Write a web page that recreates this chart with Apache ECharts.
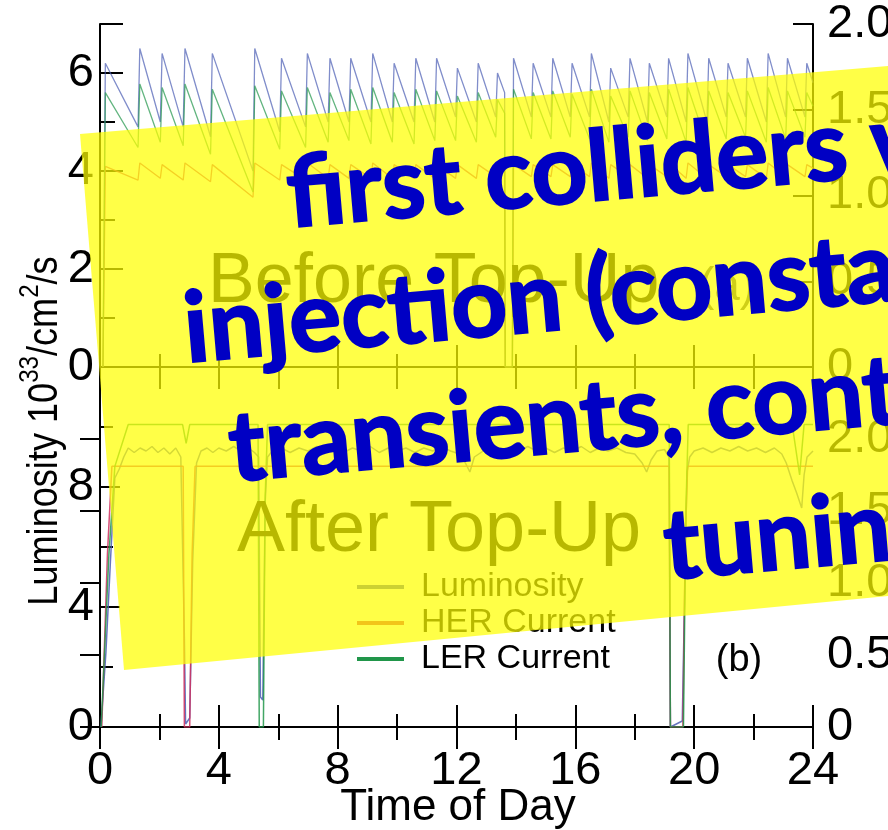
<!DOCTYPE html>
<html>
<head>
<meta charset="utf-8">
<script src="https://cdn.jsdelivr.net/npm/echarts@6/dist/echarts.min.js"></script>
<style>
  html, body { margin: 0; padding: 0; background: #ffffff; }
  #chart { width: 888px; height: 830px; }
</style>
</head>
<body>
<div id="chart"></div>
<script>
// ---------- Panel (a): before top-up, fill / decay cycles ----------
const beforeTime = [0.10, 0.18, 1.28, 1.34, 2.03, 2.09, 2.80, 2.86, 3.72, 3.78,
  5.15, 5.21, 6.05, 6.11, 6.92, 6.98, 7.68, 7.74, 8.38, 8.44,
  9.12, 9.18, 9.84, 9.90, 10.57, 10.63, 11.27, 11.33, 11.97, 12.03,
  12.67, 12.73, 13.32, 13.38, 13.62, 13.64, 13.88, 13.92, 14.52, 14.58,
  15.18, 15.24, 15.83, 15.89, 16.48, 16.54, 17.13, 17.19, 17.78, 17.84,
  18.43, 18.49, 19.08, 19.14, 19.73, 19.79, 20.43, 20.49, 21.08, 21.14,
  21.73, 21.79, 22.43, 22.49, 23.08, 23.14, 23.73, 23.79, 24.00];
const beforeLum = [0, 6.2, 4.9, 6.5, 5.0, 6.4, 4.9, 6.5, 4.7, 6.4,
  4.0, 6.5, 4.8, 6.3, 4.9, 6.4, 5.0, 6.3, 5.0, 6.3,
  5.0, 6.4, 5.0, 6.2, 5.0, 6.3, 5.0, 6.3, 5.1, 6.1,
  5.0, 6.2, 5.1, 6.0, 5.6, 0, 0, 6.3, 5.1, 6.2,
  5.1, 6.3, 5.1, 6.2, 5.1, 6.4, 5.0, 6.1, 5.1, 6.3,
  5.0, 6.2, 5.1, 6.3, 5.0, 6.4, 5.0, 6.3, 5.1, 6.2,
  5.1, 6.3, 5.0, 6.4, 5.1, 6.3, 5.1, 6.2, 5.8];
const beforeHer = [0, 1.17, 1.09, 1.19, 1.10, 1.18, 1.09, 1.19, 1.08, 1.18,
  0.99, 1.19, 1.09, 1.18, 1.09, 1.19, 1.10, 1.18, 1.10, 1.18,
  1.10, 1.19, 1.10, 1.18, 1.10, 1.18, 1.10, 1.18, 1.10, 1.18,
  1.10, 1.18, 1.11, 1.17, 1.14, 0, 0, 1.18, 1.11, 1.18,
  1.11, 1.18, 1.11, 1.18, 1.11, 1.19, 1.10, 1.18, 1.11, 1.18,
  1.10, 1.18, 1.11, 1.19, 1.10, 1.19, 1.10, 1.18, 1.11, 1.18,
  1.11, 1.18, 1.10, 1.19, 1.11, 1.18, 1.11, 1.18, 1.16];
const beforeLer = [0, 1.60, 1.28, 1.65, 1.31, 1.63, 1.29, 1.65, 1.24, 1.62,
  1.02, 1.64, 1.27, 1.61, 1.28, 1.63, 1.31, 1.60, 1.32, 1.62,
  1.30, 1.63, 1.31, 1.60, 1.30, 1.62, 1.32, 1.61, 1.32, 1.58,
  1.31, 1.60, 1.34, 1.56, 1.48, 0, 0, 1.62, 1.33, 1.60,
  1.33, 1.61, 1.34, 1.59, 1.33, 1.62, 1.31, 1.58, 1.34, 1.61,
  1.32, 1.60, 1.33, 1.62, 1.31, 1.63, 1.30, 1.61, 1.33, 1.60,
  1.34, 1.61, 1.31, 1.63, 1.33, 1.61, 1.34, 1.60, 1.52];

// ---------- Panel (b): after top-up, near-constant operation ----------
const afterLumTime = [0.03, 0.20, 0.35, 0.50, 0.65, 0.80, 0.95, 1.15, 1.35, 1.55,
  1.75, 1.95, 2.15, 2.35, 2.55, 2.72, 2.84, 2.88, 3.02, 3.12,
  3.25, 3.40, 3.60, 3.80, 4.00, 4.25, 4.50, 4.75, 5.00, 5.20,
  5.34, 5.40, 5.48, 5.56, 5.64, 5.80, 6.10, 6.40, 6.70, 7.00,
  7.30, 7.60, 7.90, 8.20, 8.50, 8.80, 9.10, 9.40, 9.70, 10.00,
  10.30, 10.60, 10.90, 11.20, 11.50, 11.80, 12.10, 12.30, 12.45, 12.60,
  12.90, 13.20, 13.50, 13.80, 14.10, 14.40, 14.70, 15.00, 15.30, 15.60,
  15.90, 16.20, 16.50, 16.80, 17.10, 17.40, 17.70, 18.00, 18.25, 18.40,
  18.55, 18.75, 19.00, 19.15, 19.20, 19.60, 19.68, 19.76, 19.85, 20.00,
  20.30, 20.60, 20.90, 21.20, 21.50, 21.80, 22.10, 22.40, 22.70, 22.95,
  23.10, 23.30, 23.45, 23.62, 23.70, 23.80, 23.90, 24.00];
const afterLum = [0, 2.5, 5.5, 8.3, 8.6, 9.0, 9.3, 9.15, 9.3, 9.2,
  9.35, 9.15, 9.3, 9.1, 9.3, 9.0, 3.0, 0.1, 0.3, 5.5,
  8.8, 9.2, 9.3, 9.15, 9.3, 9.2, 9.35, 9.2, 9.3, 9.15,
  9.0, 1.0, 0.9, 7.5, 9.0, 9.2, 9.3, 9.15, 9.3, 9.2,
  9.35, 9.2, 9.3, 9.15, 9.3, 9.2, 9.35, 9.15, 9.3, 9.2,
  9.3, 9.15, 9.3, 9.2, 9.35, 9.2, 9.1, 8.8, 8.5, 9.0,
  9.2, 9.3, 9.15, 9.3, 9.2, 9.35, 9.2, 9.3, 9.15, 9.3,
  9.2, 9.35, 9.15, 9.3, 9.2, 9.3, 9.15, 9.1, 8.8, 8.5,
  8.9, 9.2, 9.25, 9.0, 0, 0.2, 4.5, 8.5, 9.0, 9.2,
  9.3, 9.15, 9.3, 9.2, 9.35, 9.2, 9.3, 9.15, 9.3, 9.1,
  8.8, 8.2, 7.8, 7.3, 8.4, 9.0, 9.1, 9.2];
const afterHerTime = [0.06, 0.25, 0.40, 2.80, 2.84, 3.02, 3.10, 3.20, 19.16, 19.20, 19.62, 19.70, 19.78, 24.00];
const afterHer = [0, 1.2, 1.81, 1.81, 0, 0, 1.2, 1.81, 1.81, 0, 0, 1.3, 1.81, 1.81];
const afterLerTime = [0.04, 0.30, 0.50, 0.95, 2.78, 2.90, 3.02, 5.32, 5.36, 5.50, 5.56, 5.64,
  19.16, 19.20, 19.64, 19.72, 19.80, 23.30, 23.55, 23.70, 24.00];
const afterLer = [0, 1.2, 1.81, 2.1, 2.1, 1.97, 2.1, 2.1, 0, 0, 1.6, 2.1,
  2.1, 0, 0, 1.5, 2.1, 2.1, 1.75, 2.1, 2.1];

// ---------- Axis labels and names ----------
const hourLabels = [0, 4, 8, 12, 16, 20, 24];
const lumLabelsA = [0, 2, 4, 6];
const lumLabelsB = [0, 4, 8];
const timeTitle = 'Time of Day';
const seriesNames = ['Luminosity', 'HER Current', 'LER Current'];
const seriesColors = ['#4a5cb4', '#d0305e', '#21964a'];
const panelTitles = ['Before Top-Up', 'After Top-Up'];
const panelTags = ['(a)', '(b)'];
const bannerLines = ['first colliders with', 'injection (constant', 'transients, continuous', 'tuning'];

const FONT = "'Liberation Sans', Arial, Helvetica, sans-serif";
const TICK_FONT = 47;
const zip = (xs, ys) => xs.map((x, i) => [x, ys[i]]);

const axisLineStyle = { show: true, lineStyle: { color: '#000', width: 2 } };

function timeAxis(gridIndex, position, withLabels, minorLen) {
  return {
    type: 'value', gridIndex, position, min: 0, max: 24, interval: 4,
    axisLine: axisLineStyle,
    axisTick: { show: true, inside: true, length: 22, lineStyle: { color: '#000', width: 2 } },
    minorTick: { show: true, splitNumber: 2, length: minorLen, lineStyle: { color: '#000', width: 2 } },
    splitLine: { show: false },
    axisLabel: withLabels ? {
      show: true, margin: 21, color: '#000', fontSize: TICK_FONT, fontFamily: FONT,
      formatter: v => hourLabels.includes(v) ? String(v) : ''
    } : { show: false }
  };
}

function valueAxis(gridIndex, position, min, max, interval, opts) {
  return Object.assign({
    type: 'value', gridIndex, position, min, max, interval,
    axisLine: axisLineStyle,
    axisTick: { show: true, inside: true, length: 20, lineStyle: { color: '#000', width: 2 } },
    splitLine: { show: false },
    axisLabel: { show: false }
  }, opts);
}

const chart = echarts.init(document.getElementById('chart'));

const lineSeries = (name, idx, xi, yi, data, width, opacity) => ({
  name, type: 'line', xAxisIndex: xi, yAxisIndex: yi, data,
  showSymbol: false, symbol: 'none', clip: true, z: 3,
  itemStyle: { color: seriesColors[idx] },
  lineStyle: { color: seriesColors[idx], width, opacity }
});

chart.setOption({
  animation: false,
  backgroundColor: '#ffffff',
  grid: [
    { left: 100, top: 24, width: 713, height: 343, outerBoundsMode: 'none', containLabel: false },
    { left: 100, top: 367, width: 713, height: 360, outerBoundsMode: 'none', containLabel: false }
  ],
  xAxis: [
    timeAxis(0, 'bottom', false, 13),
    timeAxis(0, 'top', false, 22),
    timeAxis(1, 'bottom', true, 13),
    timeAxis(1, 'top', false, 13)
  ],
  yAxis: [
    // panel (a) luminosity scale, short ticks every unit
    valueAxis(0, 'left', 0, 7, 1, {
      axisTick: { show: true, inside: true, length: 15, lineStyle: { color: '#000', width: 2 } },
      axisLabel: {
        show: true, margin: 6, color: '#000', fontSize: TICK_FONT, fontFamily: FONT, showMaxLabel: false,
        formatter: v => lumLabelsA.includes(v) ? String(v) : ''
      }
    }),
    // panel (a) long ticks at labelled values
    valueAxis(0, 'left', 0, 7, 2, {
      axisLine: { show: false },
      axisTick: { show: true, inside: true, length: 23, lineStyle: { color: '#000', width: 2 } }
    }),
    // panel (a) current scale
    valueAxis(0, 'right', 0, 2, 0.5, {
      axisLabel: {
        show: true, margin: 14, color: '#000', fontSize: TICK_FONT, fontFamily: FONT,
        formatter: v => v === 0 ? '0' : v.toFixed(1)
      }
    }),
    // panel (b) luminosity scale
    valueAxis(1, 'left', 0, 12, 4, {
      axisTick: { show: true, inside: true, length: 20, lineStyle: { color: '#000', width: 2 } },
      minorTick: { show: true, splitNumber: 2, length: 13, lineStyle: { color: '#000', width: 2 } },
      axisLabel: {
        show: true, margin: 6, color: '#000', fontSize: TICK_FONT, fontFamily: FONT, showMaxLabel: false,
        formatter: v => lumLabelsB.includes(v) ? String(v) : ''
      }
    }),
    // panel (b) current scale
    valueAxis(1, 'right', 0, 2.5, 0.5, {
      axisLabel: {
        show: true, margin: 14, color: '#000', fontSize: TICK_FONT, fontFamily: FONT, showMaxLabel: false,
        formatter: v => v === 0 ? '0' : v.toFixed(1)
      }
    })
  ],
  legend: {
    orient: 'vertical', left: 352, top: 565,
    data: seriesNames,
    icon: 'rect', itemWidth: 47, itemHeight: 4, itemGap: 2,
    textStyle: { color: '#000', fontSize: 34, fontFamily: FONT, lineHeight: 34, padding: [0, 0, 0, 12] },
    selectedMode: false
  },
  series: [
    lineSeries(seriesNames[0], 0, 0, 0, zip(beforeTime, beforeLum), 1.3, 0.7),
    lineSeries(seriesNames[1], 1, 0, 2, zip(beforeTime, beforeHer), 1.3, 0.8),
    lineSeries(seriesNames[2], 2, 0, 2, zip(beforeTime, beforeLer), 1.3, 0.7),
    lineSeries(seriesNames[0], 0, 2, 3, zip(afterLumTime, afterLum), 1.5, 0.85),
    lineSeries(seriesNames[1], 1, 2, 4, zip(afterHerTime, afterHer), 1.5, 0.85),
    lineSeries(seriesNames[2], 2, 2, 4, zip(afterLerTime, afterLer), 1.5, 0.85)
  ],
  graphic: [
    // x-axis title
    { type: 'text', x: 458, y: 808, z: 10,
      style: { text: timeTitle, fontSize: 44, fontFamily: FONT, fill: '#000', align: 'center', verticalAlign: 'middle' } },
    // rotated y-axis title with superscripts, slightly condensed
    {
      type: 'text', x: 41, y: 431, rotation: Math.PI / 2, scaleX: 0.86, z: 10,
      style: {
        text: '{a|Luminosity 10}{s|33}{a|/cm}{s|2}{a|/s}',
        align: 'center', verticalAlign: 'middle',
        rich: {
          a: { fontSize: 42, fontFamily: FONT, fill: '#000', lineHeight: 50, verticalAlign: 'bottom' },
          s: { fontSize: 28, fontFamily: FONT, fill: '#000', lineHeight: 50, verticalAlign: 'top' }
        }
      }
    },
    { type: 'text', x: 208, y: 283, z: 10,
      style: { text: panelTitles[0], fontSize: 70, fontFamily: FONT, fill: '#000', align: 'left', verticalAlign: 'middle' } },
    { type: 'text', x: 727, y: 287, z: 10,
      style: { text: panelTags[0], fontSize: 46, fontFamily: FONT, fill: '#555', align: 'center', verticalAlign: 'middle' } },
    { type: 'text', x: 237, y: 531, z: 10,
      style: { text: panelTitles[1], fontSize: 72, fontFamily: FONT, fill: '#000', align: 'left', verticalAlign: 'middle' } },
    { type: 'text', x: 739, y: 661, z: 10,
      style: { text: panelTags[1], fontSize: 38, fontFamily: FONT, fill: '#000', align: 'center', verticalAlign: 'middle' } },
    // translucent highlight band
    { type: 'polygon', z: 100, silent: true,
      shape: { points: [[80, 134], [888, 66], [888, 596], [124, 670]] },
      style: { fill: 'rgba(255,255,0,0.72)' } },
    // banner text
    ...[[287, 196], [184, 331], [229, 450], [664, 548]].map((p, i) => ({
      type: 'text', x: p[0], y: p[1], rotation: 5 * Math.PI / 180, z: 110, silent: true,
      style: {
        text: bannerLines[i], fontSize: 98, fontWeight: 'bold',
        fontFamily: "Lato, 'Open Sans', sans-serif", fill: '#0000c4',
        stroke: '#0000c4', lineWidth: 2,
        align: 'left', verticalAlign: 'middle'
      }
    }))
  ]
});
</script>
</body>
</html>
